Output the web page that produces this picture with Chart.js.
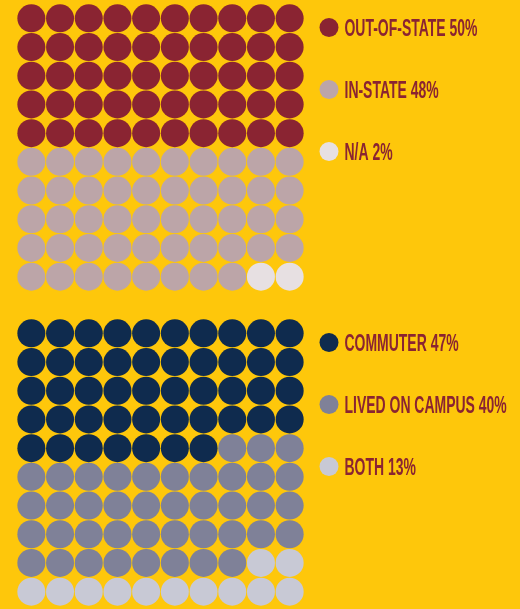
<!DOCTYPE html>
<html>
<head>
<meta charset="utf-8">
<script src="https://cdn.jsdelivr.net/npm/chart.js@4.4.0/dist/chart.umd.min.js"></script>
<style>
  html, body { margin: 0; padding: 0; background: #FEC70B; overflow: hidden; }
  .box { position: absolute; left: 0; width: 520px; }
</style>
</head>
<body>
<div class="box" style="top:0;height:300px"><canvas id="residency"></canvas></div>
<div class="box" style="top:300px;height:309px"><canvas id="housing"></canvas></div>
<script>
// residency waffle
const residencyLabels = ['OUT-OF-STATE', 'IN-STATE', 'N/A'];
const residencyPct = [50, 48, 2];
const residencyDots = [50, 48, 2];
const residencyColors = ['#8A2432', '#BCA5A8', '#E7E0E2'];

// housing waffle (dots as drawn: 47 / 41 / 12)
const housingLabels = ['COMMUTER', 'LIVED ON CAMPUS', 'BOTH'];
const housingPct = [47, 40, 13];
const housingDots = [47, 41, 12];
const housingColors = ['#0F2B4E', '#7F8198', '#C8C9D5'];

const COLS = 10;
const textColor = '#8A2432';
const legendFont = 'bold 24px "Liberation Sans Narrow", "Liberation Sans", Arial, sans-serif';

function buildDatasets(labels, pct, dots, colors) {
    let n = 0;
    return labels.map((label, i) => {
        const pts = [];
        for (let k = 0; k < dots[i]; k++, n++) {
            pts.push({ x: n % COLS, y: Math.floor(n / COLS) });
        }
        return {
            label: label + ' ' + pct[i] + '%',
            data: pts,
            backgroundColor: colors[i],
            borderWidth: 0,
            pointRadius: ctx => {
                const s = ctx.chart.scales.x;
                return (s.getPixelForValue(1) - s.getPixelForValue(0)) * 0.488;
            },
            pointHoverRadius: ctx => {
                const s = ctx.chart.scales.x;
                return (s.getPixelForValue(1) - s.getPixelForValue(0)) * 0.488;
            }
        };
    });
}

// legend on the right, drawn by hand so the text can be condensed
const sideLegend = {
    id: 'sideLegend',
    afterDraw(chart) {
        const ctx = chart.ctx;
        const area = chart.chartArea;
        ctx.save();
        ctx.font = legendFont;
        const squeeze = 133 / ctx.measureText('OUT-OF-STATE 50%').width;
        chart.data.datasets.forEach((ds, i) => {
            const cy = area.top + 23.5 + i * 62;
            ctx.beginPath();
            ctx.fillStyle = ds.backgroundColor;
            ctx.arc(area.right + 25, cy, 9.5, 0, Math.PI * 2);
            ctx.fill();
            ctx.save();
            ctx.translate(area.right + 40.5, cy + 8.5);
            ctx.scale(squeeze, 1);
            ctx.fillStyle = textColor;
            ctx.textBaseline = 'alphabetic';
            ctx.fillText(ds.label, 0, 0);
            ctx.restore();
        });
        ctx.restore();
    }
};

function makeWaffle(id, datasets, padding) {
    return new Chart(document.getElementById(id), {
        type: 'scatter',
        data: { datasets: datasets },
        options: {
            responsive: true,
            maintainAspectRatio: false,
            animation: false,
            layout: { padding: padding },
            plugins: {
                legend: { display: false },
                tooltip: { enabled: false }
            },
            scales: {
                x: { display: false, min: -0.5, max: COLS - 0.5 },
                y: { display: false, min: -0.5, max: COLS - 0.5, reverse: true }
            }
        },
        plugins: [sideLegend]
    });
}

makeWaffle('residency', buildDatasets(residencyLabels, residencyPct, residencyDots, residencyColors),
    { left: 17, top: 4, right: 216, bottom: 9 });
makeWaffle('housing', buildDatasets(housingLabels, housingPct, housingDots, housingColors),
    { left: 17, top: 19, right: 216, bottom: 3 });
</script>
</body>
</html>
